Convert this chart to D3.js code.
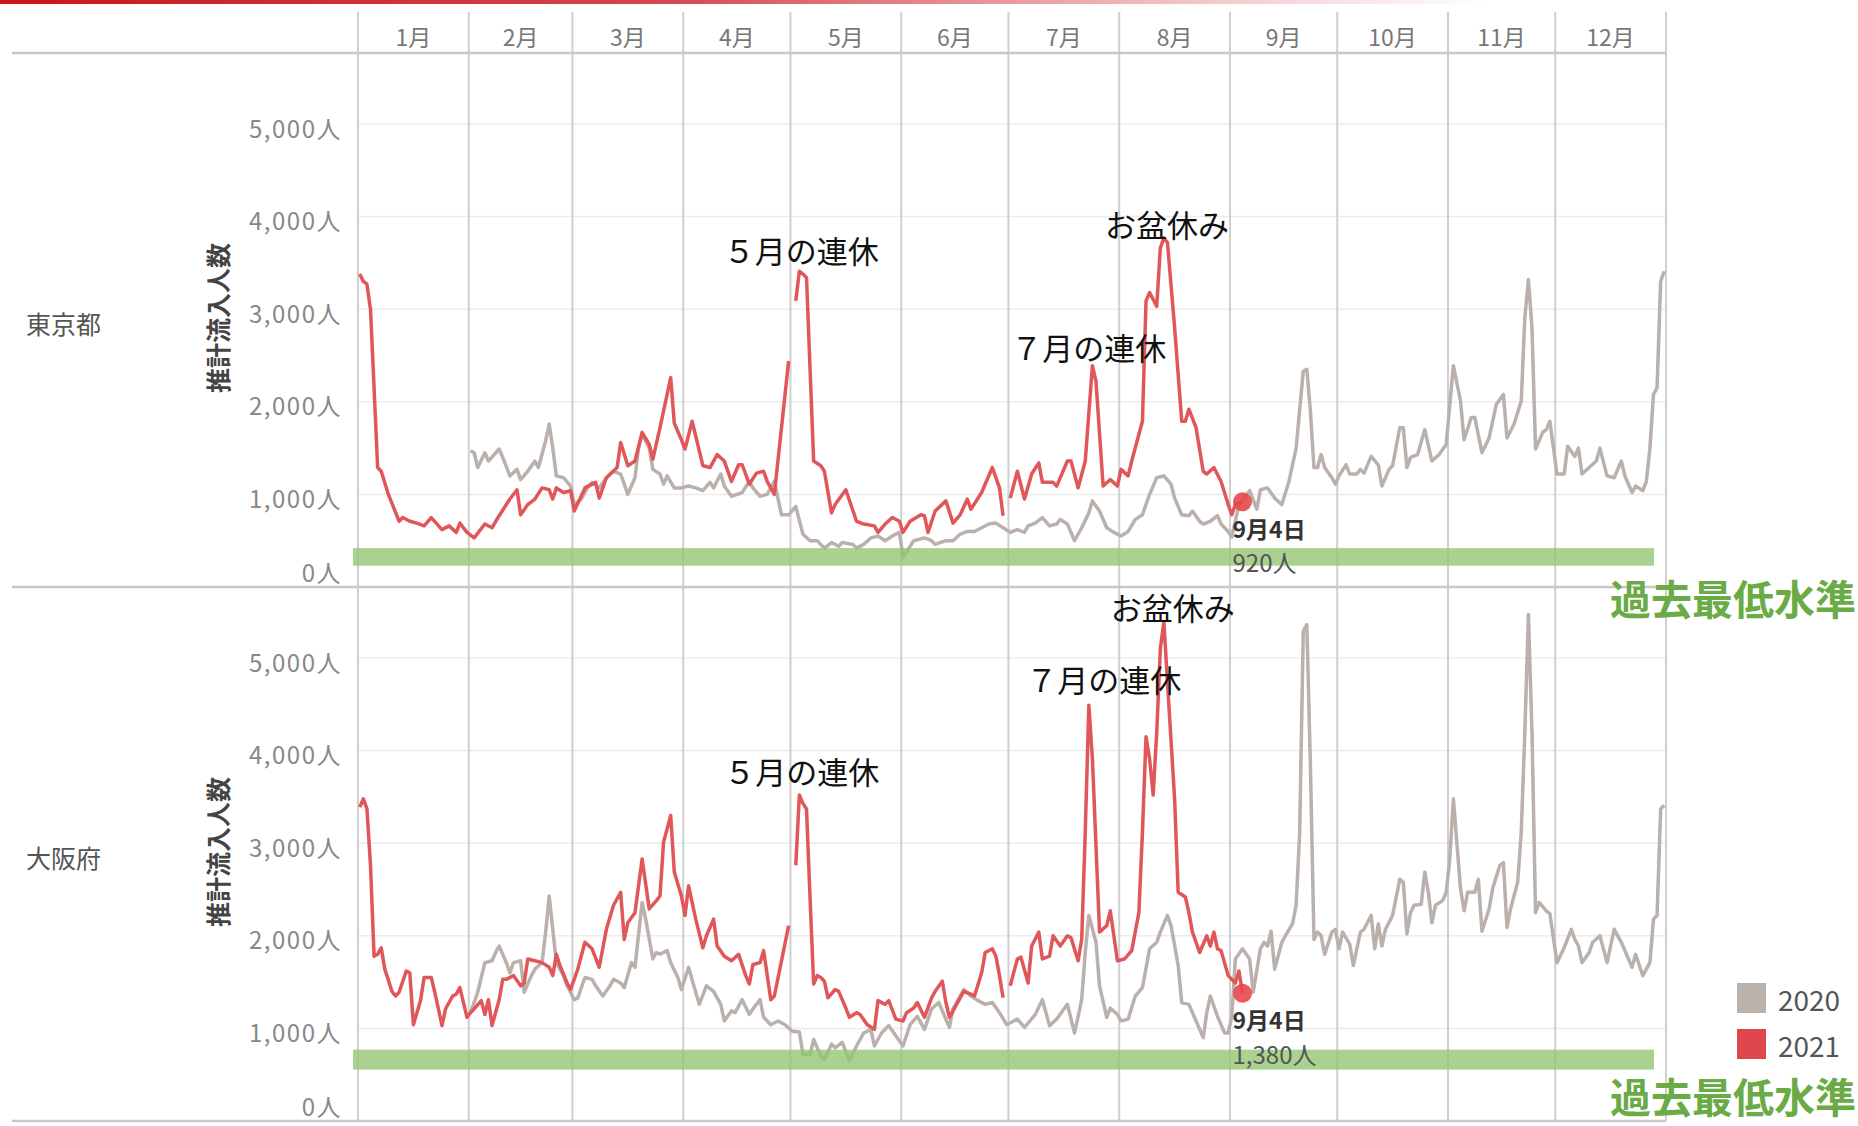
<!DOCTYPE html>
<html>
<head>
<meta charset="utf-8">
<script src="https://cdn.jsdelivr.net/npm/d3@7"></script>
<style>
  body { margin: 0; background: #fff; }
  svg { display: block; font-family: "Noto Sans CJK JP", "Noto Sans", sans-serif; }
</style>
</head>
<body>
<svg width="1858" height="1126"></svg>
<script>
// 日付は 1月1日 からの日数（うるう年の暦で並べる）
const monthLabels = ['1月','2月','3月','4月','5月','6月','7月','8月','9月','10月','11月','12月'];
const yTicks = [0, 1000, 2000, 3000, 4000, 5000];
const prefectures = ['東京都', '大阪府'];
const yearLabels = ['2020', '2021'];

// 東京都 2021年
const tokyo2021 = [
  [0,3380],[1,3300],[2,3270],[3,3000],[5,1290],[6,1250],[8,1000],[11,710],[12,750],[14,710],[16,690],[18,660],
  [20,750],[23,620],[25,660],[27,590],[28,690],[30,590],[32,530],[35,680],[37,640],[39,770],[42,950],[44,1050],
  [45,780],[47,890],[49,950],[51,1070],[53,1050],[54,950],[55,1070],[57,1020],[59,1040],[60,820],[63,1070],
  [66,1130],[67,960],[69,1180],[72,1290],[73,1560],[75,1310],[77,1360],[79,1670],[81,1540],[82,1380],[84,1720],
  [87,2260],[88,1770],[90,1590],[91,1490],[93,1790],[96,1310],[98,1290],[100,1430],[102,1360],[104,1140],
  [106,1320],[107,1320],[109,1110],[111,1230],[113,1250],[114,1140],[116,1000],[118,1720],[120,2440],[121,null],
  [122,3090],[123,3410],[124,3380],[125,3340],[127,1360],[129,1310],[130,1250],[132,800],[133,890],[136,1050],
  [139,710],[141,680],[144,660],[145,590],[147,680],[149,750],[151,710],[152,590],[154,710],[157,780],[158,770],
  [159,590],[161,820],[164,930],[166,690],[168,780],[170,950],[171,840],[174,1020],[177,1290],[179,1070],
  [180,770],[181,null],[182,960],[184,1250],[186,950],[188,1220],[190,1340],[191,1130],[194,1130],[195,1090],
  [198,1360],[199,1360],[201,1070],[203,1360],[205,2390],[206,2220],[208,1090],[210,1160],[212,1090],[213,1270],
  [215,1200],[216,1360],[219,1790],[220,3090],[221,3180],[223,3030],[224,3660],[225,3770],[226,3720],[228,2800],
  [230,1790],[231,1790],[232,1920],[234,1720],[236,1250],[237,1220],[239,1290],[241,1140],[243,890],[244,780],
  [245,890],[247,920]
];

// 東京都 2020年
const tokyo2020 = [
  [31,1470],[32,1450],[33,1290],[35,1450],[36,1360],[39,1490],[40,1400],[42,1200],[44,1270],[45,1160],[47,1250],
  [49,1360],[50,1290],[52,1580],[53,1760],[54,1500],[55,1200],[57,1180],[59,1090],[60,890],[62,950],[64,1090],
  [65,1130],[67,1070],[69,1180],[71,1250],[73,1220],[75,1000],[77,1180],[78,1500],[79,1650],[81,1500],[82,1270],
  [84,1220],[85,1110],[86,1200],[88,1070],[90,1070],[92,1090],[94,1070],[96,1040],[98,1130],[99,1070],[101,1220],
  [102,1090],[104,980],[107,1020],[109,1140],[110,1070],[112,980],[114,1000],[116,1140],[118,780],[120,780],
  [122,870],[124,570],[126,500],[128,500],[130,420],[132,480],[134,440],[135,480],[138,460],[139,420],[141,460],
  [143,530],[145,550],[147,500],[149,550],[151,590],[152,320],[155,500],[158,530],[160,500],[161,460],[164,500],
  [166,500],[168,570],[170,600],[172,600],[174,640],[176,680],[178,690],[180,640],[182,590],[184,620],[186,590],
  [187,660],[189,690],[191,750],[193,660],[195,680],[196,730],[198,680],[200,500],[202,640],[204,800],[205,930],
  [207,820],[209,640],[211,590],[213,550],[215,600],[217,730],[219,780],[221,1000],[223,1180],[225,1200],
  [227,1110],[228,960],[230,780],[232,770],[233,820],[235,710],[236,680],[238,710],[240,770],[241,680],[243,600],
  [244,540],[246,890],[249,1040],[251,840],[252,1050],[254,1070],[256,960],[258,890],[260,1140],[262,1500],
  [264,2330],[265,2350],[266,1900],[267,1290],[268,1290],[269,1430],[270,1290],[272,1180],[273,1110],[274,1200],
  [276,1320],[277,1220],[279,1220],[280,1270],[281,1230],[283,1410],[285,1320],[286,1090],[288,1270],[289,1310],
  [291,1720],[292,1720],[293,1290],[294,1400],[296,1430],[298,1700],[300,1360],[302,1430],[304,1540],[306,2390],
  [308,2010],[309,1590],[311,1830],[312,1830],[314,1450],[316,1610],[318,1970],[320,2080],[321,1610],[323,1760],
  [325,2010],[326,2910],[327,3320],[328,2800],[329,1490],[331,1670],[332,1700],[333,1790],[335,1220],[337,1220],
  [338,1520],[340,1410],[341,1500],[342,1220],[344,1290],[346,1360],[347,1500],[349,1200],[351,1180],[353,1360],
  [354,1200],[356,1020],[357,1090],[359,1040],[360,1140],[361,1500],[362,2080],[363,2150],[364,3300],[365,3410]
];

// 大阪府 2021年
const osaka2021 = [
  [0,3390],[1,3480],[2,3370],[3,2760],[4,1780],[5,1800],[6,1870],[7,1640],[9,1400],[10,1350],[11,1390],[13,1620],
  [14,1600],[15,1040],[17,1300],[18,1550],[20,1550],[21,1390],[23,1030],[24,1210],[26,1350],[27,1370],[28,1440],
  [30,1120],[31,1170],[32,1210],[34,1300],[35,1150],[36,1310],[37,1030],[39,1310],[40,1530],[41,1530],[43,1570],
  [45,1460],[46,1490],[47,1750],[49,1730],[51,1710],[53,1660],[54,1570],[55,1800],[56,1680],[58,1490],[59,1420],
  [61,1640],[63,1930],[65,1860],[67,1660],[69,2070],[71,2330],[73,2470],[74,1960],[75,2140],[77,2250],[79,2830],
  [81,2290],[83,2380],[84,2430],[85,3010],[87,3300],[88,2690],[90,2430],[91,2220],[92,2540],[94,2180],[96,1870],
  [97,2000],[99,2180],[100,1890],[102,1780],[104,1730],[106,1800],[108,1570],[109,1480],[110,1690],[112,1710],
  [113,1840],[115,1310],[116,1350],[118,1730],[120,2110],[121,null],[122,2760],[123,3520],[124,3430],[125,3370],
  [126,2400],[127,1480],[128,1570],[129,1550],[130,1510],[131,1330],[133,1420],[134,1400],[136,1220],[137,1120],
  [139,1170],[140,1150],[142,1040],[144,990],[145,1300],[147,1260],[148,1300],[150,1100],[152,1080],[153,1170],
  [155,1220],[156,1280],[158,1120],[160,1330],[161,1400],[163,1510],[164,1280],[165,1120],[167,1260],[169,1400],
  [171,1370],[172,1350],[174,1600],[175,1820],[177,1860],[178,1780],[179,1570],[180,1330],[181,null],[182,1460],
  [184,1750],[185,1770],[187,1490],[188,1890],[190,2040],[191,1750],[193,1780],[194,2000],[196,1890],[198,2000],
  [199,1980],[201,1730],[202,1960],[203,3120],[204,4490],[205,3910],[207,2040],[209,2110],[210,2270],[212,1730],
  [214,1750],[216,1840],[218,2250],[219,3120],[220,4150],[221,3910],[222,3520],[223,4200],[224,5100],[225,5390],
  [226,4740],[228,3480],[229,2470],[231,2420],[232,2250],[233,2040],[235,1820],[237,2000],[238,1890],[239,2040],
  [240,1860],[241,1840],[243,1570],[245,1490],[246,1620],[247,1380]
];

// 大阪府 2020年
const osaka2020 = [
  [31,1170],[33,1390],[35,1710],[37,1730],[38,1820],[39,1890],[41,1710],[42,1600],[43,1710],[45,1730],[46,1390],
  [48,1570],[49,1640],[51,1710],[52,2040],[53,2430],[54,2070],[55,1710],[57,1570],[58,1460],[60,1310],[61,1330],
  [63,1550],[65,1530],[66,1460],[68,1350],[70,1460],[71,1530],[73,1490],[74,1440],[76,1710],[77,1660],[79,2360],
  [80,2180],[82,1750],[83,1820],[84,1800],[86,1840],[87,1710],[89,1550],[90,1420],[92,1660],[94,1390],[95,1260],
  [97,1460],[99,1400],[101,1260],[102,1080],[104,1190],[105,1170],[107,1310],[109,1150],[110,1210],[112,1310],
  [113,1120],[115,1040],[117,1080],[119,1040],[121,970],[123,960],[124,720],[126,720],[127,880],[129,700],
  [130,660],[132,830],[133,790],[135,850],[137,650],[139,810],[141,950],[143,990],[144,810],[146,950],[148,1030],
  [150,920],[152,810],[154,1040],[156,1130],[158,990],[160,1210],[162,1280],[165,1010],[166,1210],[169,1420],
  [171,1350],[173,1300],[175,1260],[177,1280],[179,1170],[181,1040],[184,1100],[186,1010],[189,1150],[191,1310],
  [193,1030],[195,1100],[198,1260],[200,950],[202,1310],[203,1820],[204,2220],[206,1930],[207,1460],[209,1120],
  [210,1220],[212,1150],[213,1080],[215,1100],[217,1350],[219,1440],[221,1860],[223,1930],[224,2040],[226,2220],
  [227,2110],[229,1680],[230,1280],[232,1260],[233,1170],[236,900],[237,1170],[238,1350],[240,1130],[242,950],
  [243,950],[244,1130],[245,1750],[247,1860],[249,1750],[250,1390],[252,1860],[253,1930],[254,1890],[255,2050],
  [256,1640],[258,1930],[259,2000],[261,2130],[262,2330],[263,3120],[264,5290],[265,5360],[266,3840],[267,1960],
  [268,2040],[269,2000],[270,1800],[272,2040],[273,2070],[274,1860],[275,2040],[277,1910],[278,1680],[280,2040],
  [281,2070],[283,2220],[284,1860],[285,2130],[286,1890],[287,2070],[289,2220],[291,2610],[292,2580],[293,2020],
  [294,2250],[295,2330],[297,2340],[298,2690],[299,2470],[300,2140],[301,2330],[303,2380],[304,2470],[305,2830],
  [306,3480],[308,2510],[309,2270],[310,2470],[312,2470],[313,2610],[314,2050],[316,2290],[317,2510],[319,2760],
  [320,2790],[321,2090],[322,2290],[324,2580],[325,3120],[326,4200],[327,5470],[328,4200],[329,2250],[330,2360],
  [332,2270],[333,2240],[335,1710],[337,1870],[339,2070],[340,1960],[341,1890],[342,1710],[344,1820],[345,1930],
  [347,2000],[349,1710],[351,2070],[353,1930],[355,1750],[356,1660],[357,1800],[359,1570],[361,1710],[362,2180],
  [363,2220],[364,3370],[365,3410]
];

// 過去最低水準の帯（下限, 上限）
const lowBands = [[230, 420], [555, 770]];
// 最新日
const lastDay = 247;
const lastDayLabel = '9月4日';
const lastValues = [920, 1380];
// 注記 [テキスト, 日, 値]
const notesTokyo = [['５月の連休', 124, 3650], ['７月の連休', 204.5, 2600], ['お盆休み', 226.4, 3930]];
const notesOsaka = [['５月の連休', 124.2, 3790], ['７月の連休', 208.7, 4780], ['お盆休み', 228, 5560]];

const svg = d3.select('svg');
const width = +svg.attr('width');
const height = +svg.attr('height');

const colors = { y2020: '#bab0ac', y2021: '#e15759' };
const left = 358, right = 1666, headerY = 53, ph = 534;
const panelTops = [headerY, headerY + ph];

const yearStart = new Date(2020, 0, 1);
const monthStarts = d3.timeMonth.range(yearStart, new Date(2021, 0, 2))
  .map(m => d3.timeDay.count(yearStart, m));

const x = d3.scaleLinear().domain([0, 366]).range([left, right]);
const y = d3.scaleLinear().domain([0, 5000]).range([ph, ph - 463]);
const fmt = d3.format(',');

// 上部の赤いライン
const defs = svg.append('defs');
const grad = defs.append('linearGradient').attr('id', 'topbar');
grad.append('stop').attr('offset', '0%').attr('stop-color', '#c8161e');
grad.append('stop').attr('offset', '35%').attr('stop-color', '#d4454c');
grad.append('stop').attr('offset', '62%').attr('stop-color', '#f0bcc0');
grad.append('stop').attr('offset', '80%').attr('stop-color', '#ffffff');
svg.append('rect').attr('x', 0).attr('y', 0).attr('width', width).attr('height', 4).attr('fill', 'url(#topbar)');

// グリッド
panelTops.forEach(top => {
  svg.append('g').attr('transform', `translate(0,${top})`)
    .selectAll('line').data(yTicks.slice(1)).join('line')
    .attr('x1', left).attr('x2', right)
    .attr('y1', d => y(d)).attr('y2', d => y(d))
    .attr('stroke', '#ececec').attr('stroke-width', 1.5);
});

// 月の縦線
svg.append('g').selectAll('line').data(monthStarts).join('line')
  .attr('x1', d => x(d)).attr('x2', d => x(d))
  .attr('y1', 12).attr('y2', headerY + 2 * ph)
  .attr('stroke', '#cfcfcf').attr('stroke-width', 2);

// 横の区切り線
svg.append('g').selectAll('line').data([headerY, headerY + ph, headerY + 2 * ph]).join('line')
  .attr('x1', 12).attr('x2', right)
  .attr('y1', d => d).attr('y2', d => d)
  .attr('stroke', '#c8c8c8').attr('stroke-width', 2.5);

// 月ラベル
svg.append('g').selectAll('text').data(monthLabels).join('text')
  .attr('x', (d, i) => x((monthStarts[i] + monthStarts[i + 1]) / 2))
  .attr('y', 36)
  .attr('text-anchor', 'middle').attr('dominant-baseline', 'central')
  .attr('font-size', 23).attr('fill', '#777')
  .text(d => d);

const line = d3.line()
  .defined(d => d[1] != null)
  .x(d => x(d[0] + 0.5))
  .y(d => y(d[1]));

const panels = [
  { s2020: tokyo2020, s2021: tokyo2021, notes: notesTokyo },
  { s2020: osaka2020, s2021: osaka2021, notes: notesOsaka }
];

panels.forEach((p, i) => {
  const g = svg.append('g').attr('transform', `translate(0,${panelTops[i]})`);

  // 目盛
  g.append('g').selectAll('text').data(yTicks).join('text')
    .attr('x', 342)
    .attr('y', d => Math.min(y(d) + 3, ph - 16))
    .attr('text-anchor', 'end').attr('dominant-baseline', 'central')
    .attr('font-size', 24).attr('fill', '#888').attr('letter-spacing', 1.5)
    .text(d => fmt(d) + '人');

  g.append('text')
    .attr('transform', `translate(217,265) rotate(-90)`)
    .attr('text-anchor', 'middle').attr('dominant-baseline', 'central')
    .attr('font-size', 25).attr('font-weight', 'bold').attr('fill', '#444')
    .text('推計流入人数');

  g.append('text')
    .attr('x', 26).attr('y', 270)
    .attr('dominant-baseline', 'central')
    .attr('font-size', 25).attr('fill', '#555')
    .text(prefectures[i]);

  // 折れ線
  g.append('path').datum(p.s2020)
    .attr('d', line).attr('fill', 'none')
    .attr('stroke', colors.y2020).attr('stroke-width', 3.5).attr('stroke-linejoin', 'round');
  g.append('path').datum(p.s2021)
    .attr('d', line).attr('fill', 'none')
    .attr('stroke', colors.y2021).attr('stroke-width', 3.5).attr('stroke-linejoin', 'round');

  // 過去最低水準
  const [lo, hi] = lowBands[i];
  g.append('rect')
    .attr('x', left - 5).attr('width', right - left - 7)
    .attr('y', y(hi)).attr('height', y(lo) - y(hi))
    .attr('fill', '#95c573').attr('opacity', 0.8);
  g.append('text')
    .attr('x', width - 2)
    .attr('y', Math.min(y((lo + hi) / 2) + 40, height - 31 - panelTops[i]))
    .attr('text-anchor', 'end').attr('dominant-baseline', 'central')
    .attr('font-size', 41).attr('font-weight', 'bold').attr('fill', '#6aab46')
    .text('過去最低水準');

  // 注記
  g.append('g').selectAll('text').data(p.notes).join('text')
    .attr('x', d => x(d[1])).attr('y', d => y(d[2]))
    .attr('text-anchor', 'middle').attr('dominant-baseline', 'central')
    .attr('font-size', 31).attr('fill', '#111')
    .text(d => d[0]);

  // 最新値
  const v = lastValues[i];
  const dx = x(lastDay + 0.5), dy = y(v);
  g.append('circle').attr('cx', dx).attr('cy', dy).attr('r', 9.5)
    .attr('fill', '#e8474c').attr('opacity', 0.9);
  g.append('text').attr('x', dx - 10).attr('y', dy + 26)
    .attr('dominant-baseline', 'central')
    .attr('font-size', 23).attr('font-weight', 'bold').attr('fill', '#333')
    .text(lastDayLabel);
  g.append('text').attr('x', dx - 10).attr('y', dy + 60)
    .attr('dominant-baseline', 'central')
    .attr('font-size', 24).attr('fill', '#555')
    .text(fmt(v) + '人');
});

// 凡例
const legend = svg.append('g').attr('transform', 'translate(1737,983)');
legend.selectAll('rect').data(yearLabels).join('rect')
  .attr('x', 0).attr('y', (d, i) => i * 46)
  .attr('width', 29).attr('height', 30)
  .attr('fill', (d, i) => i === 0 ? colors.y2020 : '#e0474c');
legend.selectAll('text').data(yearLabels).join('text')
  .attr('x', 41).attr('y', (d, i) => i * 46 + 16)
  .attr('dominant-baseline', 'central')
  .attr('font-size', 28).attr('fill', '#555')
  .text(d => d);
</script>
</body>
</html>
